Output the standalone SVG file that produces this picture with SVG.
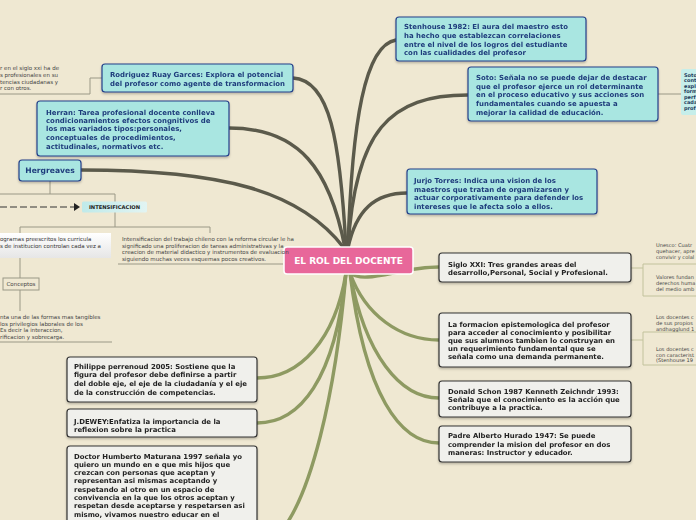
<svg xmlns="http://www.w3.org/2000/svg" width="696" height="520" viewBox="0 0 696 520">
<defs>
<style>
.dk{fill:none;stroke:#5b5a4b;stroke-width:3.4;stroke-linecap:round}
.gr{fill:none;stroke:#8e9a62;stroke-width:3.4;stroke-linecap:round}
.th{fill:none;stroke:#9a9886;stroke-width:1}
.tg{fill:none;stroke:#c2c29c;stroke-width:1}
.cb{fill:#a9e6e1;stroke:#243f8a;stroke-width:1.2}
.gb{fill:#f0f0ec;stroke:#333;stroke-width:1.2}
.ct{font-family:"DejaVu Sans",Verdana,sans-serif;font-weight:bold;font-size:6.95px;fill:#1f3c7c}
.gt{font-family:"DejaVu Sans",Verdana,sans-serif;font-weight:bold;font-size:6.9px;fill:#222}
.sm{font-family:"DejaVu Sans",Verdana,sans-serif;font-size:5.5px;fill:#444}
.sr{font-family:"DejaVu Sans",Verdana,sans-serif;font-size:5.1px;fill:#444}
.smb{font-family:"DejaVu Sans",Verdana,sans-serif;font-weight:bold;font-size:5px;fill:#1f3c5c}
</style>
<linearGradient id="wg" x1="0" y1="0" x2="0" y2="1"><stop offset="0" stop-color="#ffffff"/><stop offset="1" stop-color="#e6e6e6"/></linearGradient>
<linearGradient id="ig" x1="0" y1="0" x2="1" y2="0"><stop offset="0" stop-color="#bfeaea"/><stop offset="1" stop-color="#e2f4f2"/></linearGradient>
<marker id="ar" markerWidth="6" markerHeight="8" refX="5" refY="4" orient="auto" markerUnits="userSpaceOnUse"><path d="M0,0 L6,4 L0,8 Z" fill="#222"/></marker>
<filter id="sh" x="-5%" y="-10%" width="110%" height="130%"><feDropShadow dx="0" dy="1.5" stdDeviation="0.8" flood-color="#000" flood-opacity="0.25"/></filter>
</defs>
<rect width="696" height="520" fill="#efe8d2"/>
<g id="connectors">
<path class="dk" d="M348,248 C352,120 365,45 396,40"/>
<path class="dk" d="M348,248 C355,130 390,95 468,95"/>
<path class="dk" d="M348,248 C356,210 375,193 407,193"/>
<path class="dk" d="M346,248 C340,140 330,80 293,78"/>
<path class="dk" d="M345,248 C330,170 300,128 229,128"/>
<path class="dk" d="M344,248 C300,190 220,170 81,170"/>
<path class="gr" d="M350,273 C365,285 400,267 439,267"/>
<path class="gr" d="M350,273 C365,315 400,340 439,340"/>
<path class="gr" d="M350,273 C365,355 400,398 439,398"/>
<path class="gr" d="M350,273 C365,395 400,443 439,443"/>
<path class="gr" d="M346,273 C335,340 300,378 257,378"/>
<path class="gr" d="M346,273 C335,380 300,423 257,423"/>
<path class="gr" d="M346,273 C335,400 310,495 282,530"/>
<path class="th" d="M283,264 L118,264"/>
<path class="th" d="M102,78 L90,78 L90,94 L0,94"/>
<path class="th" d="M50,181 L50,194 M0,194 L115,194 L115,227 M20,233 L20,227 L210,227 L210,233"/>
<path class="th" d="M20,258 L20,278 M20,290 L20,311 M0,342 L112,342"/>
<path d="M0,207 L79,207" fill="none" stroke="#333" stroke-width="1" stroke-dasharray="7,3" marker-end="url(#ar)"/>
<path class="th" d="M658,94 L681,94"/>
<path class="tg" d="M631,268 L643,268 M643,264 L643,296 M643,264 L696,264 M643,296 L696,296"/>
<path class="tg" d="M631,340 L643,340 M643,332 L643,365 M643,332 L696,332 M643,365 L696,365"/>
</g>
<g id="central">
<rect x="284" y="247" width="129" height="27" rx="3" fill="#e8679a" stroke="#fff" stroke-width="1.5"/>
<text x="348.5" y="264" text-anchor="middle" font-family="DejaVu Sans,Verdana,sans-serif" font-weight="bold" font-size="9" fill="#fff">EL ROL DEL DOCENTE</text>
</g>
<g id="stenhouse" filter="url(#sh)">
<rect class="cb" x="396" y="17" width="190" height="44" rx="3"/>
<text class="ct" x="404"><tspan x="404" y="28.5">Stenhouse 1982: El aura del maestro esto</tspan><tspan x="404" y="37.5">ha hecho que establezcan correlaciones</tspan><tspan x="404" y="46.5">entre el nivel de los logros del estudiante</tspan><tspan x="404" y="55">con las cualidades del profesor</tspan></text>
</g>
<g id="soto" filter="url(#sh)">
<rect class="cb" x="468" y="67" width="190" height="54" rx="3"/>
<text class="ct"><tspan x="476" y="79.5">Soto: Señala no se puede dejar de destacar</tspan><tspan x="476" y="88.5">que el profesor ejerce un rol determinante</tspan><tspan x="476" y="96.5">en el proceso educativo y sus acciones son</tspan><tspan x="476" y="105.5">fundamentales cuando se apuesta a</tspan><tspan x="476" y="114.5">mejorar la calidad de educación.</tspan></text>
</g>
<g id="soto-detalle">
<rect x="681" y="69" width="20" height="46" rx="2" fill="#c6eeea"/>
<text class="smb"><tspan x="684" y="76.5">Soto</tspan><tspan x="684" y="82">cont</tspan><tspan x="684" y="87.5">expl</tspan><tspan x="684" y="93">form</tspan><tspan x="684" y="98.5">perf</tspan><tspan x="684" y="104">cada</tspan><tspan x="684" y="109.5">prof</tspan></text>
</g>
<g id="jurjo" filter="url(#sh)">
<rect class="cb" x="407" y="169" width="190" height="45" rx="3"/>
<text class="ct"><tspan x="414" y="182.5">Jurjo Torres: Indica una vision de los</tspan><tspan x="414" y="191.5">maestros que tratan de orgamizarsen y</tspan><tspan x="414" y="199.5">actuar corporativamente para defender los</tspan><tspan x="414" y="208.5">intereses que le afecta solo a ellos.</tspan></text>
</g>
<g id="rodriguez" filter="url(#sh)">
<rect class="cb" x="102" y="64" width="191" height="28" rx="3"/>
<text class="ct"><tspan x="110" y="76.5">Rodriguez Ruay Garces: Explora el potencial</tspan><tspan x="110" y="85.5">del profesor como agente de transformacion</tspan></text>
</g>
<g id="rodriguez-detalle">
<text class="sm"><tspan x="0" y="70">r en el siglo xxi ha de</tspan><tspan x="0" y="77">s profesionales en su</tspan><tspan x="0" y="83.5">tencias ciudadanas y</tspan><tspan x="0" y="90">r con otros.</tspan></text>
</g>
<g id="herran" filter="url(#sh)">
<rect class="cb" x="37" y="101" width="192" height="55" rx="3"/>
<text class="ct"><tspan x="46" y="114.5">Herran: Tarea profesional docente conlleva</tspan><tspan x="46" y="122.5">condicionamientos efectos congnitivos de</tspan><tspan x="46" y="130.5">los mas variados tipos:personales,</tspan><tspan x="46" y="139.5">conceptuales de procedimientos,</tspan><tspan x="46" y="148.5">actitudinales, normativos etc.</tspan></text>
</g>
<g id="hergreaves" filter="url(#sh)">
<rect class="cb" x="19" y="160" width="62" height="21" rx="3"/>
<text class="ct" x="50" y="173" text-anchor="middle" style="font-size:7.6px">Hergreaves</text>
</g>
<g id="intensificacion">
<rect x="82" y="201.5" width="65" height="11" rx="1.5" fill="url(#ig)"/>
<text x="114.5" y="209" text-anchor="middle" font-family="DejaVu Sans,Verdana,sans-serif" font-weight="bold" font-size="5.2px" fill="#222">INTENSIFICACION</text>
</g>
<g id="programas">
<rect x="-2" y="233" width="113" height="25" fill="url(#wg)"/>
<text class="sm" style="fill:#333"><tspan x="0" y="241">ogramas preescritos los curricula</tspan><tspan x="0" y="247.5">s de institucion controlan cada vez a</tspan></text>
</g>
<g id="intensificacion-texto">
<text class="sm"><tspan x="122" y="241">Intensificacion del trabajo chileno con la reforma circular le ha</tspan><tspan x="122" y="247.5">significado una proliferacion de tareas administrativas y la</tspan><tspan x="122" y="254">creacion de material didactico y instrumentos de evaluacion</tspan><tspan x="122" y="260.5">siguiendo muchas veces esquemas pocos creativos.</tspan></text>
</g>
<g id="conceptos">
<rect x="3" y="278" width="36" height="12" fill="#efe8d2" stroke="#9a9886" stroke-width="1"/>
<text class="sm" x="21" y="285.8" text-anchor="middle">Conceptos</text>
</g>
<g id="conceptos-texto">
<text class="sm"><tspan x="0" y="319">nta una de las formas mas tangibles</tspan><tspan x="0" y="325.5">los privilegios laborales de los</tspan><tspan x="0" y="332">Es decir la interaccion,</tspan><tspan x="0" y="338.5">rificacion y sobrecarga.</tspan></text>
</g>
<g id="siglo" filter="url(#sh)">
<rect class="gb" x="439" y="253" width="192" height="29" rx="3"/>
<text class="gt"><tspan x="448" y="266.5">Siglo XXI: Tres grandes areas del</tspan><tspan x="448" y="275">desarrollo,Personal, Social y Profesional.</tspan></text>
</g>
<g id="siglo-detalle">
<text class="sr"><tspan x="656" y="246.5">Unesco: Cuatr</tspan><tspan x="656" y="252.5">quehacer, apre</tspan><tspan x="656" y="258.5">convivir y colal</tspan><tspan x="656" y="279">Valores fundan</tspan><tspan x="656" y="285">derechos huma</tspan><tspan x="656" y="290.5">del medio amb</tspan></text>
</g>
<g id="formacion" filter="url(#sh)">
<rect class="gb" x="439" y="313" width="192" height="54" rx="3"/>
<text class="gt"><tspan x="448" y="326.5">La formacion epistemologica del profesor</tspan><tspan x="448" y="334.5">para acceder al conocimiento y posibilitar</tspan><tspan x="448" y="342.5">que sus alumnos tambien lo construyan en</tspan><tspan x="448" y="350.5">un requerimiento fundamental que se</tspan><tspan x="448" y="359">señala como una demanda permanente.</tspan></text>
</g>
<g id="formacion-detalle">
<text class="sr"><tspan x="656" y="319">Los docentes c</tspan><tspan x="656" y="325">de sus propios</tspan><tspan x="656" y="330.5">andhagglund 1</tspan><tspan x="656" y="351">Los docentes c</tspan><tspan x="656" y="356.5">con caracterist</tspan><tspan x="656" y="362">(Stenhouse 19</tspan></text>
</g>
<g id="donald" filter="url(#sh)">
<rect class="gb" x="439" y="381" width="192" height="36" rx="3"/>
<text class="gt"><tspan x="448" y="393.5">Donald Schon 1987 Kenneth Zeichndr 1993:</tspan><tspan x="448" y="401.5">Señala que el conocimiento es la acción que</tspan><tspan x="448" y="410">contribuye a la practica.</tspan></text>
</g>
<g id="padre" filter="url(#sh)">
<rect class="gb" x="439" y="426" width="192" height="36" rx="3"/>
<text class="gt"><tspan x="448" y="437.5">Padre Alberto Hurado 1947: Se puede</tspan><tspan x="448" y="446.5">comprender la mision del profesor en dos</tspan><tspan x="448" y="455">maneras: Instructor y educador.</tspan></text>
</g>
<g id="philippe" filter="url(#sh)">
<rect class="gb" x="67" y="357" width="190" height="45" rx="3"/>
<text class="gt"><tspan x="74" y="368.5">Philippe perrenoud 2005: Sostiene que la</tspan><tspan x="74" y="376.5">figura del profesor debe definirse a partir</tspan><tspan x="74" y="385.5">del doble eje, el eje de la ciudadanía y el eje</tspan><tspan x="74" y="394.5">de la construcción de competencias.</tspan></text>
</g>
<g id="dewey" filter="url(#sh)">
<rect class="gb" x="67" y="409" width="190" height="28" rx="3"/>
<text class="gt"><tspan x="74" y="423.5">J.DEWEY:Enfatiza la importancia de la</tspan><tspan x="74" y="431.5">reflexion sobre la practica</tspan></text>
</g>
<g id="maturana" filter="url(#sh)">
<rect class="gb" x="67" y="446" width="190" height="90" rx="3"/>
<text class="gt"><tspan x="74" y="458.5">Doctor Humberto Maturana 1997 señala yo</tspan><tspan x="74" y="466.5">quiero un mundo en e que mis hijos que</tspan><tspan x="74" y="474.5">crezcan con personas que aceptan y</tspan><tspan x="74" y="483">representan asi mismas aceptando y</tspan><tspan x="74" y="491.5">respetando al otro en un espacio de</tspan><tspan x="74" y="499.5">convivencia en la que los otros aceptan y</tspan><tspan x="74" y="508">respetan desde aceptarse y respetarsen asi</tspan><tspan x="74" y="516.5">mismo, vivamos nuestro educar en el</tspan></text>
</g>
</svg>
